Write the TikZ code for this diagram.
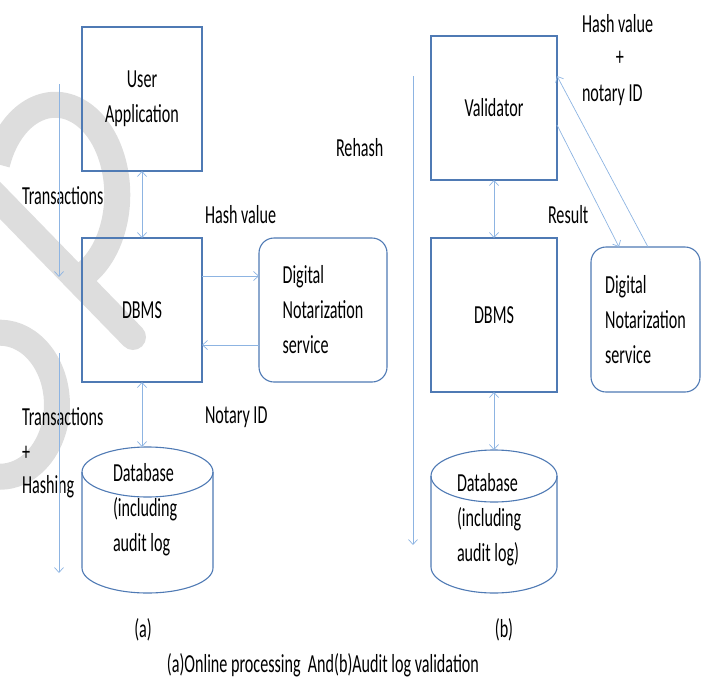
\documentclass[tikz,border=0pt]{standalone}
\usepackage{fontspec}
\setmainfont{Carlito}[FakeStretch=0.62]
\usetikzlibrary{arrows.meta}
\definecolor{boxblue}{RGB}{79,122,180}
\definecolor{flowblue}{RGB}{141,180,226}
\definecolor{wmark}{RGB}{221,221,221}
\begin{document}
\begin{tikzpicture}[x=1pt, y=-1pt, font=\fontsize{26}{35}\selectfont,
		every node/.style={inner sep=1pt, outer sep=0},
		box/.style={draw=boxblue, line width=1.1pt, minimum width=120pt, minimum height=144pt, align=center},
		rbox/.style={box, rounded corners=15pt, align=left},
		flow/.style={draw=flowblue, line width=0.7pt},
		>={Straight Barb[length=5pt, width=9pt]}]
		\useasboundingbox (0,0) rectangle (701,680);

		% watermark
		\draw[wmark, line width=26pt] (-3,164) arc[start angle=160, end angle=-70, x radius=62pt, y radius=90pt];
		\draw[wmark, line width=26pt, line cap=round] (-15,185) -- (133,337);
		\draw[wmark, line width=26pt] (-5,333) arc[start angle=95, end angle=-95, x radius=57pt, y radius=72pt];

		% (a) online processing
		\node[box] (ua) at (142,99) {User\\Application};
		\node[box] (dbmsa) at (142,310) {DBMS};
		\node[rbox, minimum width=128pt] (dnsa) at (323,310) {Digital\\Notarization\\service};
		\draw[box] (147.5,472) ellipse [x radius=65.5pt, y radius=25pt];
		\draw[box] (82,472) -- (82,568) arc[start angle=180, end angle=360, x radius=65.5pt, y radius=25pt] -- (213,472);
		\node[anchor=west, align=left] (dba) at (112,510) {Database\\(including\\audit log};
		\coordinate (dbatop) at (141,447);

		\draw[flow, <->] (ua.south) -- (dbmsa.north);
		\draw[flow, ->] ([yshift=34pt]dbmsa.east) -- ([yshift=34pt]dnsa.west);
		\draw[flow, ->] ([yshift=-35pt]dnsa.west) -- ([yshift=-35pt]dbmsa.east);
		\draw[flow, <->] (dbmsa.south) -- (dbmsa.south |- dbatop);

		\node[anchor=west] (hva) at (204,215) {Hash value};
		\node[anchor=west] (nida) at (204,417) {Notary ID};
		\node[anchor=west] (tra) at (21,196) {Transactions};
		\node[anchor=west] (trb) at (21,417) {Transactions};
		\node[anchor=west] (plusa) at (21,453) {+};
		\node[anchor=west] (hsha) at (21,487) {Hashing};

		\foreach \s/\e in {84/277, 353/573}{
				\coordinate (ts) at (59,\s);
				\coordinate (te) at (59,\e);
				\draw[flow, ->] (ts) -- (te);
		}
		\node (capa) at (143,630) {(a)};

		% (b) audit log validation
		\node[box, minimum width=126pt] (val) at (494,108) {Validator};
		\node[box, minimum width=126pt, minimum height=154pt] (dbmsb) at (494,315) {DBMS};
		\node[rbox, minimum width=109pt, minimum height=145pt] (dnsb) at (645.5,319.5) {Digital\\Notarization\\service};
		\draw[box] (494,476) ellipse [x radius=63pt, y radius=26pt];
		\draw[box] (431,476) -- (431,567) arc[start angle=180, end angle=360, x radius=63pt, y radius=26pt] -- (557,476);
		\node[anchor=west, align=left] (dbb) at (456,520) {Database\\(including\\audit log)};
		\coordinate (dbbtop) at (494,450);

		\draw[flow, <->] (val.south) -- (dbmsb.north);
		\draw[flow, <->] (dbmsb.south) -- (dbbtop);
		\draw[flow, ->] ([yshift=-17pt]val.east) -- ([xshift=-26.5pt]dnsb.north);
		\draw[flow, ->] ([xshift=2.5pt]dnsb.north) -- ([yshift=32pt]val.east);

		\coordinate (rs) at (413,76);
		\coordinate (re) at (413,545);
		\draw[flow, ->] (rs) -- (re);
		\node[anchor=west] (rh) at (335,148) {Rehash};

		\node[anchor=west] (hvb) at (581,24) {Hash value};
		\node (plusb) at (620,58) {+};
		\node[anchor=west] (nidb) at (581,95) {notary ID};
		\node[anchor=west] (res) at (547,215) {Result};
		\node (capb) at (504,630) {(b)};

		\node (cap) at (323,665) {(a)Online processing\ \ And(b)Audit log validation};
	\end{tikzpicture}
\end{document}
